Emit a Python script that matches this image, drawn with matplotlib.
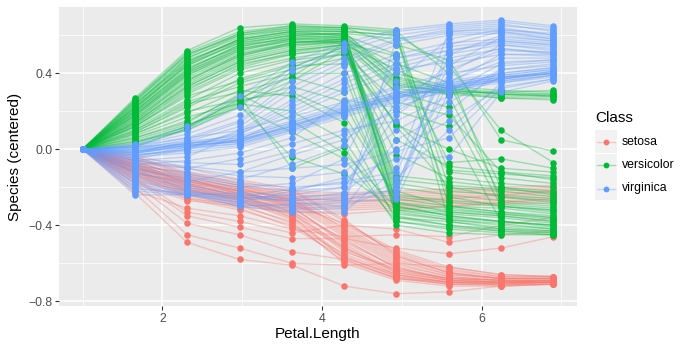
import matplotlib
matplotlib.use("Agg")
import matplotlib.pyplot as plt
from matplotlib.lines import Line2D
from matplotlib.patches import Rectangle

plt.rcParams['font.family'] = ['Liberation Sans', 'DejaVu Sans']

# grid of Petal.Length values
petal_length = [1.0, 1.656, 2.311, 2.967, 3.622, 4.278, 4.933, 5.589, 6.244, 6.9]

classes = ["setosa", "versicolor", "virginica"]
colors = {"setosa": "#F8766D", "versicolor": "#00BA38", "virginica": "#619CFF"}

setosa_curves = [
    [0, -0.08, -0.17, -0.22, -0.30, -0.50, -0.64, -0.69, -0.70, -0.70],
    [0, -0.10, -0.19, -0.24, -0.33, -0.53, -0.66, -0.70, -0.71, -0.70],
    [0, -0.06, -0.15, -0.20, -0.28, -0.45, -0.60, -0.67, -0.69, -0.69],
    [0, -0.12, -0.21, -0.27, -0.36, -0.56, -0.67, -0.71, -0.71, -0.71],
    [0, -0.07, -0.14, -0.19, -0.25, -0.42, -0.57, -0.65, -0.68, -0.68],
    [0, -0.09, -0.18, -0.23, -0.31, -0.48, -0.62, -0.68, -0.69, -0.69],
    [0, -0.11, -0.20, -0.26, -0.35, -0.58, -0.68, -0.70, -0.70, -0.70],
    [0, -0.05, -0.13, -0.17, -0.22, -0.38, -0.55, -0.64, -0.67, -0.67],
    [0, -0.13, -0.24, -0.30, -0.38, -0.60, -0.69, -0.72, -0.72, -0.71],
    [0, -0.08, -0.16, -0.21, -0.27, -0.44, -0.59, -0.66, -0.68, -0.68],
    [0, -0.10, -0.22, -0.28, -0.34, -0.51, -0.65, -0.69, -0.70, -0.69],
    [0, -0.04, -0.12, -0.18, -0.24, -0.40, -0.54, -0.63, -0.67, -0.67],
    [0, -0.14, -0.26, -0.32, -0.40, -0.55, -0.66, -0.70, -0.70, -0.70],
    [0, -0.07, -0.18, -0.25, -0.33, -0.47, -0.63, -0.68, -0.69, -0.70],
    [0, -0.03, -0.10, -0.16, -0.21, -0.37, -0.56, -0.65, -0.68, -0.68],
    [0, -0.09, -0.20, -0.25, -0.32, -0.52, -0.65, -0.69, -0.70, -0.69],
    [0, -0.11, -0.21, -0.27, -0.37, -0.57, -0.67, -0.70, -0.71, -0.71],
    [0, -0.06, -0.16, -0.22, -0.29, -0.46, -0.61, -0.67, -0.69, -0.69],
    [0, -0.12, -0.23, -0.29, -0.39, -0.59, -0.68, -0.71, -0.72, -0.71],
    [0, -0.08, -0.19, -0.26, -0.34, -0.54, -0.63, -0.68, -0.70, -0.70],
    [0, -0.05, -0.14, -0.21, -0.26, -0.43, -0.58, -0.66, -0.68, -0.68],
    [0, -0.10, -0.17, -0.23, -0.30, -0.49, -0.62, -0.69, -0.70, -0.70],
    [0, -0.13, -0.25, -0.31, -0.41, -0.57, -0.66, -0.70, -0.71, -0.70],
    [0, -0.07, -0.15, -0.24, -0.36, -0.52, -0.64, -0.68, -0.69, -0.69],
    [0, -0.04, -0.13, -0.19, -0.27, -0.41, -0.56, -0.65, -0.68, -0.68],
    [0, -0.09, -0.17, -0.22, -0.29, -0.39, -0.53, -0.62, -0.66, -0.67],
    [0, -0.20, -0.45, -0.52, -0.60, -0.61, -0.60, -0.62, -0.66, -0.67],
    [0, -0.23, -0.49, -0.58, -0.61, -0.72, -0.76, -0.75, -0.72, -0.71],
    [0, -0.18, -0.39, -0.45, -0.54, -0.58, -0.68, -0.71, -0.71, -0.70],
    [0, -0.16, -0.35, -0.41, -0.47, -0.47, -0.52, -0.55, -0.52, -0.46],
    [0, -0.15, -0.33, -0.38, -0.44, -0.40, -0.42, -0.49, -0.45, -0.43],
    [0, -0.22, -0.31, -0.35, -0.42, -0.46, -0.45, -0.46, -0.40, -0.36],
    [0, -0.12, -0.20, -0.24, -0.26, -0.27, -0.26, -0.25, -0.24, -0.23],
    [0, -0.14, -0.22, -0.26, -0.28, -0.29, -0.28, -0.27, -0.26, -0.25],
    [0, -0.10, -0.18, -0.22, -0.24, -0.25, -0.24, -0.23, -0.22, -0.21],
    [0, -0.16, -0.24, -0.28, -0.30, -0.31, -0.30, -0.29, -0.28, -0.27],
    [0, -0.08, -0.16, -0.20, -0.22, -0.23, -0.22, -0.21, -0.20, -0.19],
    [0, -0.18, -0.27, -0.30, -0.33, -0.34, -0.32, -0.30, -0.28, -0.26],
    [0, -0.11, -0.19, -0.23, -0.25, -0.26, -0.25, -0.24, -0.23, -0.22],
    [0, -0.13, -0.21, -0.25, -0.27, -0.28, -0.27, -0.26, -0.24, -0.22],
    [0, -0.15, -0.23, -0.27, -0.29, -0.30, -0.29, -0.28, -0.27, -0.26],
    [0, -0.09, -0.17, -0.21, -0.23, -0.24, -0.23, -0.22, -0.21, -0.20],
    [0, -0.17, -0.26, -0.29, -0.31, -0.32, -0.31, -0.30, -0.29, -0.28],
    [0, -0.12, -0.22, -0.25, -0.26, -0.27, -0.27, -0.26, -0.25, -0.24],
]

versicolor_curves = [
    [0, 0.27, 0.52, 0.64, 0.66, 0.65, 0.63, -0.20, -0.25, -0.28],
    [0, 0.25, 0.50, 0.60, 0.64, 0.63, -0.30, -0.35, -0.38, -0.40],
    [0, 0.24, 0.46, 0.58, 0.62, 0.60, 0.50, -0.25, -0.30, -0.32],
    [0, 0.22, 0.44, 0.56, 0.60, 0.59, -0.35, -0.40, -0.42, -0.44],
    [0, 0.20, 0.42, 0.55, 0.58, 0.58, -0.22, -0.30, -0.33, -0.36],
    [0, 0.18, 0.40, 0.52, 0.57, 0.56, 0.12, -0.20, -0.22, -0.25],
    [0, 0.17, 0.38, 0.50, 0.55, 0.56, -0.28, -0.33, -0.35, -0.38],
    [0, 0.15, 0.35, 0.48, 0.54, 0.57, 0.35, 0.30, 0.28, 0.28],
    [0, 0.14, 0.33, 0.46, 0.52, 0.55, 0.32, 0.29, 0.27, 0.27],
    [0, 0.13, 0.31, 0.45, 0.50, 0.54, 0.30, 0.30, 0.30, 0.31],
    [0, 0.20, 0.43, 0.54, 0.59, 0.60, 0.38, 0.32, 0.29, 0.29],
    [0, 0.23, 0.47, 0.57, 0.61, 0.61, 0.40, 0.33, 0.31, 0.30],
    [0, 0.12, 0.29, 0.42, 0.48, 0.52, -0.03, -0.15, -0.18, -0.20],
    [0, 0.26, 0.51, 0.62, 0.65, 0.64, 0.55, 0.47, 0.05, -0.01],
    [0, 0.21, 0.45, 0.58, 0.62, 0.62, 0.60, 0.44, 0.10, -0.07],
    [0, 0.26, 0.50, 0.61, 0.65, 0.64, 0.62, 0.40, -0.28, -0.30],
    [0, 0.23, 0.48, 0.59, 0.63, 0.63, -0.33, -0.37, -0.40, -0.42],
    [0, 0.21, 0.44, 0.57, 0.61, 0.60, 0.36, 0.31, 0.29, 0.28],
    [0, 0.19, 0.41, 0.54, 0.59, 0.59, 0.34, 0.30, 0.27, 0.26],
    [0, 0.17, 0.39, 0.52, 0.58, 0.59, -0.29, -0.32, -0.34, -0.36],
    [0, 0.16, 0.36, 0.50, 0.56, 0.58, 0.33, 0.31, 0.29, 0.28],
    [0, 0.14, 0.34, 0.47, 0.53, 0.56, -0.24, -0.27, -0.29, -0.31],
    [0, 0.25, 0.49, 0.61, 0.64, 0.64, 0.61, -0.30, -0.33, -0.35],
    [0, 0.22, 0.46, 0.58, 0.62, 0.62, 0.37, 0.32, 0.30, 0.29],
    [0, 0.13, 0.32, 0.44, 0.51, 0.55, -0.36, -0.38, -0.41, -0.43],
    [0, 0.20, 0.42, 0.55, 0.60, 0.61, -0.20, -0.24, -0.27, -0.29],
    [0, 0.18, 0.40, 0.53, 0.58, 0.58, 0.45, 0.35, -0.20, -0.24],
    [0, 0.15, 0.36, 0.49, 0.55, 0.57, 0.30, 0.22, -0.30, -0.33],
    [0, 0.12, 0.30, 0.43, 0.50, 0.53, 0.20, 0.12, -0.38, -0.40],
    [0, 0.09, 0.23, 0.37, 0.45, 0.50, 0.25, 0.18, -0.12, -0.16],
    [0, 0.14, 0.33, 0.46, 0.52, 0.55, 0.42, 0.28, -0.25, -0.27],
    [0, 0.10, 0.24, 0.30, 0.38, 0.30, -0.30, -0.35, -0.38, -0.40],
    [0, 0.08, 0.20, 0.26, 0.30, 0.18, -0.25, -0.28, -0.30, -0.32],
    [0, 0.07, 0.17, 0.24, 0.20, 0.05, -0.36, -0.40, -0.43, -0.45],
    [0, 0.05, 0.13, 0.22, 0.09, -0.05, -0.38, -0.42, -0.44, -0.45],
    [0, 0.04, 0.10, 0.23, -0.04, -0.13, -0.32, -0.36, -0.38, -0.41],
    [0, 0.09, 0.22, 0.35, 0.42, 0.48, 0.14, -0.11, -0.13, -0.15],
    [0, 0.11, 0.26, 0.40, 0.47, 0.50, 0.13, 0.00, -0.10, -0.12],
    [0, 0.06, 0.15, 0.28, -0.10, 0.01, -0.40, -0.44, -0.45, -0.45],
    [0, 0.03, 0.12, 0.25, 0.33, 0.25, -0.28, -0.31, -0.34, -0.37],
    [0, 0.16, 0.37, 0.49, 0.56, 0.58, -0.18, -0.22, -0.24, -0.26],
    [0, 0.19, 0.41, 0.53, 0.57, 0.57, -0.26, -0.30, -0.31, -0.34],
    [0, 0.01, 0.11, 0.27, 0.38, 0.56, 0.49, -0.07, -0.05, -0.10],
    [0, 0.24, 0.48, 0.60, 0.63, 0.62, 0.60, -0.38, -0.42, -0.43],
    [0, 0.18, 0.39, 0.51, 0.56, 0.57, -0.14, -0.17, -0.20, -0.22],
    [0, 0.22, 0.45, 0.56, 0.60, 0.61, 0.58, -0.12, -0.15, -0.18],
    [0, 0.12, 0.28, 0.36, 0.44, 0.45, -0.32, -0.34, -0.36, -0.39],
    [0, 0.10, 0.25, 0.33, 0.40, 0.40, -0.34, -0.37, -0.39, -0.42],
    [0, 0.08, 0.19, 0.31, 0.28, 0.14, -0.38, -0.41, -0.43, -0.44],
    [0, 0.06, 0.14, 0.29, 0.15, -0.02, -0.31, -0.33, -0.35, -0.38],
    [0, 0.02, 0.11, 0.24, 0.36, 0.52, -0.16, -0.19, -0.21, -0.23],
    [0, 0.04, 0.12, 0.26, 0.43, 0.54, 0.05, -0.09, -0.12, -0.14],
]

virginica_curves = [
    [0, -0.01, 0.02, 0.04, 0.12, 0.21, 0.29, 0.34, 0.38, 0.41],
    [0, -0.02, 0.01, 0.03, 0.11, 0.19, 0.27, 0.32, 0.36, 0.39],
    [0, 0.00, 0.03, 0.06, 0.14, 0.22, 0.30, 0.35, 0.39, 0.42],
    [0, -0.03, -0.01, 0.02, 0.10, 0.18, 0.26, 0.31, 0.35, 0.38],
    [0, 0.01, 0.04, 0.07, 0.15, 0.24, 0.32, 0.36, 0.40, 0.43],
    [0, -0.04, -0.02, 0.01, 0.09, 0.17, 0.25, 0.30, 0.37, 0.40],
    [0, -0.02, 0.02, 0.05, 0.13, 0.20, 0.28, 0.33, 0.38, 0.41],
    [0, 0.02, 0.06, 0.10, 0.17, 0.25, 0.33, 0.40, 0.44, 0.46],
    [0, -0.01, 0.01, 0.05, 0.12, 0.20, 0.28, 0.33, 0.37, 0.40],
    [0, 0.00, 0.02, 0.04, 0.11, 0.20, 0.27, 0.33, 0.37, 0.40],
    [0, -0.02, 0.02, 0.04, 0.13, 0.21, 0.29, 0.34, 0.38, 0.40],
    [0, -0.01, 0.03, 0.05, 0.12, 0.22, 0.28, 0.32, 0.36, 0.39],
    [0, -0.03, 0.00, 0.03, 0.10, 0.19, 0.27, 0.32, 0.37, 0.41],
    [0, 0.01, 0.03, 0.06, 0.14, 0.23, 0.30, 0.35, 0.39, 0.42],
    [0, 0.03, 0.12, 0.28, 0.46, 0.56, 0.63, 0.66, 0.68, 0.65],
    [0, 0.02, 0.08, 0.18, 0.41, 0.52, 0.60, 0.64, 0.66, 0.62],
    [0, 0.01, 0.06, 0.15, 0.36, 0.48, 0.58, 0.62, 0.63, 0.60],
    [0, -0.02, 0.04, 0.12, 0.30, 0.44, 0.55, 0.60, 0.61, 0.58],
    [0, -0.05, 0.00, 0.10, 0.26, 0.40, 0.50, 0.56, 0.58, 0.56],
    [0, -0.06, -0.04, 0.08, 0.22, 0.35, 0.45, 0.52, 0.56, 0.54],
    [0, -0.03, 0.00, 0.05, 0.18, 0.30, 0.40, 0.48, 0.53, 0.51],
    [0, -0.08, -0.06, -0.02, 0.06, 0.26, 0.22, 0.45, 0.50, 0.49],
    [0, 0.02, 0.10, 0.22, 0.43, 0.54, 0.62, 0.65, 0.67, 0.64],
    [0, 0.00, 0.05, 0.14, 0.33, 0.46, 0.57, 0.61, 0.62, 0.59],
    [0, -0.04, 0.01, 0.09, 0.24, 0.37, 0.48, 0.54, 0.57, 0.55],
    [0, -0.01, 0.03, 0.08, 0.20, 0.32, 0.43, 0.50, 0.55, 0.53],
    [0, -0.10, -0.16, -0.22, -0.25, -0.24, -0.22, 0.40, 0.55, 0.52],
    [0, -0.12, -0.18, -0.25, -0.27, -0.26, -0.24, 0.55, 0.62, 0.58],
    [0, -0.14, -0.20, -0.27, -0.30, -0.28, -0.26, 0.30, 0.45, 0.47],
    [0, -0.16, -0.22, -0.29, -0.32, -0.31, 0.05, 0.20, 0.42, 0.44],
    [0, -0.18, -0.23, -0.30, -0.33, -0.33, -0.10, 0.62, 0.64, 0.60],
    [0, -0.08, -0.13, -0.18, -0.20, -0.18, -0.15, 0.10, 0.35, 0.39],
    [0, -0.06, -0.10, -0.14, -0.15, -0.12, 0.10, 0.25, 0.38, 0.40],
    [0, -0.20, -0.24, -0.28, -0.22, -0.15, -0.05, -0.04, 0.30, 0.36],
    [0, -0.11, -0.15, -0.20, -0.18, -0.05, 0.48, 0.52, 0.57, 0.55],
    [0, -0.09, -0.12, -0.16, -0.08, 0.02, 0.42, 0.46, 0.53, 0.50],
    [0, -0.22, -0.24, -0.26, -0.24, -0.20, 0.18, 0.38, 0.48, 0.48],
    [0, -0.24, -0.24, -0.23, -0.28, -0.30, 0.58, 0.63, 0.65, 0.63],
    [0, -0.07, -0.10, -0.05, 0.03, 0.10, 0.15, 0.28, 0.42, 0.45],
    [0, -0.13, -0.17, -0.12, -0.03, 0.05, 0.22, 0.32, 0.40, 0.43],
    [0, -0.15, -0.21, -0.28, -0.31, -0.30, -0.20, 0.50, 0.60, 0.57],
    [0, -0.19, -0.24, -0.30, -0.29, -0.27, -0.18, 0.35, 0.50, 0.50],
    [0, -0.12, -0.19, -0.24, -0.26, -0.23, 0.00, 0.15, 0.33, 0.37],
    [0, -0.10, -0.14, -0.19, -0.22, -0.20, 0.26, 0.42, 0.52, 0.51],
    [0, -0.17, -0.22, -0.26, -0.27, -0.25, 0.36, 0.58, 0.63, 0.61],
    [0, -0.06, -0.09, -0.12, -0.10, -0.08, -0.01, 0.06, 0.32, 0.37],
    [0, -0.21, -0.23, -0.25, -0.21, -0.17, -0.12, 0.44, 0.59, 0.57],
    [0, -0.05, -0.07, -0.08, -0.01, 0.08, 0.20, 0.36, 0.46, 0.47],
]

curves = {"setosa": setosa_curves, "versicolor": versicolor_curves,
          "virginica": virginica_curves}

x_ticks = [2, 4, 6]
y_ticks = [-0.8, -0.4, 0.0, 0.4]
y_tick_labels = ["-0.8", "-0.4", "0.0", "0.4"]
x_label = "Petal.Length"
y_label = "Species (centered)"
legend_title = "Class"

W, H = 700, 350
fig = plt.figure(figsize=(7, 3.5), dpi=100)
L, R, T, B = 59, 577, 7, 306
ax = fig.add_axes([L / W, 1 - B / H, (R - L) / W, (B - T) / H])
ax.set_facecolor("#EBEBEB")
for s in ax.spines.values():
    s.set_visible(False)

ax.set_xlim(0.705, 7.195)
ax.set_ylim(-0.825, 0.749)

# grid
for v in [1, 3, 5, 7]:
    ax.axvline(v, color="white", lw=0.55, zorder=0)
for v in [-0.6, -0.2, 0.2, 0.6]:
    ax.axhline(v, color="white", lw=0.55, zorder=0)
for v in x_ticks:
    ax.axvline(v, color="white", lw=1.1, zorder=0)
for v in y_ticks:
    ax.axhline(v, color="white", lw=1.1, zorder=0)

# lines
for cls in classes:
    for c in curves[cls]:
        ax.plot(petal_length, c, color=colors[cls], alpha=0.35, lw=1.0,
                zorder=1, solid_capstyle="butt")
# points
for cls in classes:
    for c in curves[cls]:
        ax.plot(petal_length, c, linestyle="none", marker="o", markersize=4.7,
                markeredgewidth=0, color=colors[cls], zorder=2)

ax.set_xticks(x_ticks)
ax.set_xticklabels([str(t) for t in x_ticks])
ax.set_yticks(y_ticks)
ax.set_yticklabels([t.replace("-", "\u2212") for t in y_tick_labels])
ax.tick_params(axis="both", length=2.75, width=0.8, color="#333333",
               labelsize=8.8, labelcolor="#4D4D4D", pad=2.2)

fig.text((L + R) / 2 / W, 1 - 334 / H, x_label, ha="center", va="center",
         fontsize=11, color="black")
fig.text(15 / W, 1 - ((T + B) / 2) / H, y_label, ha="center", va="center",
         rotation=90, fontsize=11, color="black")

# legend
fig.text(595 / W, 1 - 118 / H, legend_title, ha="left", va="center",
         fontsize=11, color="black")
key_tops = [130, 153.5, 177]
key_h = 23
for cls, kt in zip(classes, key_tops):
    fig.add_artist(Rectangle((595 / W, 1 - (kt + key_h) / H), 22 / W, key_h / H,
                             transform=fig.transFigure, facecolor="#F2F2F2",
                             edgecolor="none"))
    cy = 1 - (kt + key_h / 2) / H
    fig.add_artist(Line2D([597 / W, 615 / W], [cy, cy], transform=fig.transFigure,
                          color=colors[cls], alpha=0.35, lw=1.0))
    fig.add_artist(Line2D([606 / W], [cy], transform=fig.transFigure,
                          marker="o", markersize=4.2, markeredgewidth=0,
                          color=colors[cls], linestyle="none"))
    fig.text(622 / W, cy, cls, ha="left", va="center", fontsize=8.8,
             color="black")

fig.savefig("out.png", dpi=100)
